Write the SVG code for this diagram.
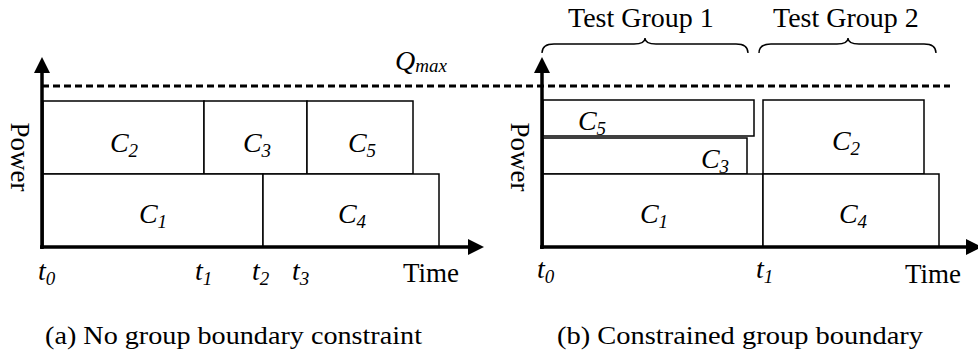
<svg xmlns="http://www.w3.org/2000/svg" width="978" height="356" viewBox="0 0 978 356">
<style>
  .box{fill:#fff;stroke:#000;stroke-width:1.5}
  .axis{stroke:#000;stroke-width:3.5;fill:none}
  .head{fill:#000}
  .dash{stroke:#000;stroke-width:3;stroke-dasharray:7 4;fill:none}
  .brace{stroke:#000;stroke-width:1.4;fill:none}
  text{font-family:'Liberation Serif','Times New Roman',serif;fill:#000}
  .lbl{font-style:italic;font-size:28px}
  .sub{font-size:19px}
</style>
<rect width="978" height="356" fill="#fff"/>

<g id="qmax-line">
  <line class="dash" x1="42" y1="86" x2="950" y2="86"/>
  <text class="lbl" x="395" y="70">Q<tspan class="sub" dy="2">max</tspan></text>
</g>

<!-- Panel (a) -->
<g id="a-C2"><rect class="box" x="43" y="101" width="161" height="73"/><text class="lbl" x="124" y="152" text-anchor="middle">C<tspan class="sub" dy="5">2</tspan></text></g>
<g id="a-C3"><rect class="box" x="204" y="101" width="103" height="73"/><text class="lbl" x="257" y="152" text-anchor="middle">C<tspan class="sub" dy="5">3</tspan></text></g>
<g id="a-C5"><rect class="box" x="307" y="101" width="106" height="73"/><text class="lbl" x="362" y="152" text-anchor="middle">C<tspan class="sub" dy="5">5</tspan></text></g>
<g id="a-C1"><rect class="box" x="43" y="174" width="220" height="73"/><text class="lbl" x="153" y="223" text-anchor="middle">C<tspan class="sub" dy="5">1</tspan></text></g>
<g id="a-C4"><rect class="box" x="263" y="174" width="176" height="73"/><text class="lbl" x="352" y="223" text-anchor="middle">C<tspan class="sub" dy="5">4</tspan></text></g>

<g id="a-axes">
  <line class="axis" x1="42" y1="249" x2="42" y2="70"/>
  <polygon class="head" points="42,57 34,73 50,73"/>
  <line class="axis" x1="40" y1="247" x2="470" y2="247"/>
  <polygon class="head" points="484,247 468,239 468,255"/>
  <text font-size="27" transform="translate(11,157) rotate(90)" text-anchor="middle">Power</text>
  <text font-size="27" x="403" y="282">Time</text>
  <text class="lbl" x="38" y="280">t<tspan class="sub" dy="5">0</tspan></text>
  <text class="lbl" x="195" y="280">t<tspan class="sub" dy="5">1</tspan></text>
  <text class="lbl" x="252" y="280">t<tspan class="sub" dy="5">2</tspan></text>
  <text class="lbl" x="292" y="280">t<tspan class="sub" dy="5">3</tspan></text>
</g>

<!-- Panel (b) -->
<g id="b-C5"><rect class="box" x="543" y="100" width="211" height="36"/><text class="lbl" x="592" y="130" text-anchor="middle">C<tspan class="sub" dy="5">5</tspan></text></g>
<g id="b-C3"><rect class="box" x="543" y="138" width="204" height="36"/><text class="lbl" x="715" y="168" text-anchor="middle">C<tspan class="sub" dy="5">3</tspan></text></g>
<g id="b-C2"><rect class="box" x="763" y="100" width="161" height="74"/><text class="lbl" x="846" y="150" text-anchor="middle">C<tspan class="sub" dy="5">2</tspan></text></g>
<g id="b-C1"><rect class="box" x="543" y="174" width="220" height="73"/><text class="lbl" x="654" y="223" text-anchor="middle">C<tspan class="sub" dy="5">1</tspan></text></g>
<g id="b-C4"><rect class="box" x="763" y="174" width="176" height="73"/><text class="lbl" x="853" y="223" text-anchor="middle">C<tspan class="sub" dy="5">4</tspan></text></g>

<g id="b-groups">
  <path class="brace" d="M542,53 Q542,44 554,44 L634,44 Q645,44 645,38 Q645,44 656,44 L736,44 Q748,44 748,53"/>
  <path class="brace" d="M759,53 Q759,44 771,44 L837,44 Q848,44 848,38 Q848,44 859,44 L924,44 Q936,44 936,53"/>
  <text font-size="28" x="568" y="27">Test Group 1</text>
  <text font-size="28" x="773" y="27">Test Group 2</text>
</g>

<g id="b-axes">
  <line class="axis" x1="542" y1="249" x2="542" y2="70"/>
  <polygon class="head" points="542,57 534,73 550,73"/>
  <line class="axis" x1="540" y1="247" x2="968" y2="247"/>
  <polygon class="head" points="982,247 966,239 966,255"/>
  <text font-size="27" transform="translate(511,157) rotate(90)" text-anchor="middle">Power</text>
  <text font-size="27" x="905" y="283">Time</text>
  <text class="lbl" x="537" y="278">t<tspan class="sub" dy="5">0</tspan></text>
  <text class="lbl" x="756" y="278">t<tspan class="sub" dy="5">1</tspan></text>
</g>

<g id="captions">
  <text font-size="26" x="45" y="344" textLength="377" lengthAdjust="spacingAndGlyphs">(a) No group boundary constraint</text>
  <text font-size="26" x="557" y="344" textLength="366" lengthAdjust="spacingAndGlyphs">(b) Constrained group boundary</text>
</g>
</svg>
